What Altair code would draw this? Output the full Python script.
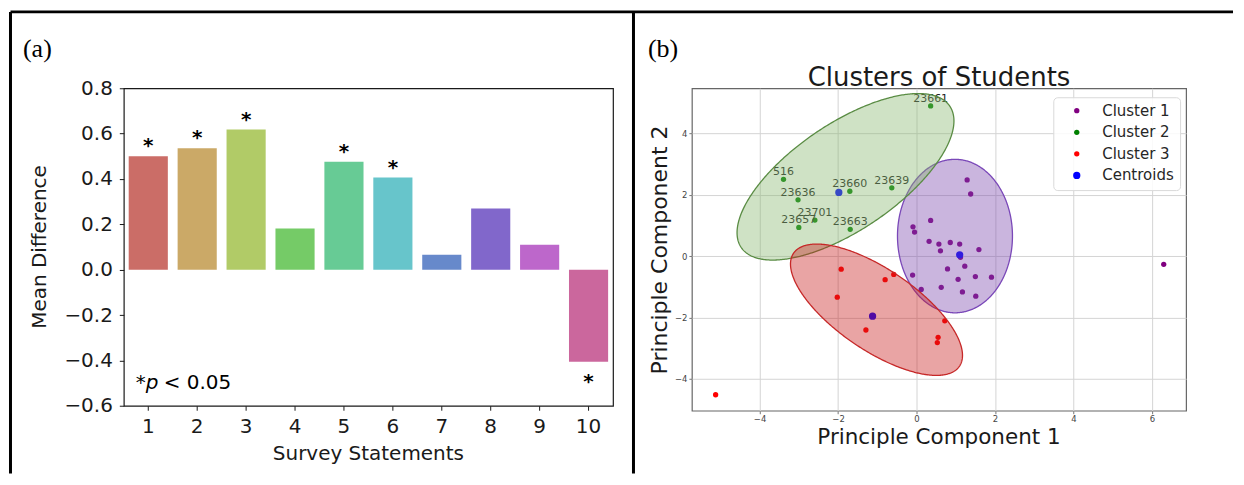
import colorsys
import numpy as np
import pandas as pd
import altair as alt

# ---------------- panel (a) data ----------------
statements = [str(i) for i in range(1, 11)]
mean_diff = [0.50, 0.535, 0.618, 0.182, 0.476, 0.406, 0.066, 0.27, 0.11, -0.406]
significant = [True, True, True, False, True, True, False, False, False, True]

# ---------------- panel (b) data ----------------
c1_x = [1.29, 1.38, 0.36, -0.09, -0.05, 0.32, 0.57, 0.86, 1.10, 0.61, 1.59, 1.12,
        1.23, 0.79, -0.10, 1.50, 1.91, 1.06, 0.12, 0.63, 1.17, 1.51, 6.30]
c1_y = [2.48, 2.02, 1.16, 0.95, 0.78, 0.48, 0.39, 0.44, 0.39, 0.17, 0.21, -0.04,
        -0.33, -0.42, -0.62, -0.67, -0.69, -0.76, -1.09, -1.02, -1.17, -1.31, -0.27]
c2_ids = ["23661", "516", "23636", "23660", "23639", "23701", "23657", "23663"]
c2_x = [0.36, -3.39, -3.02, -1.70, -0.63, -2.59, -3.00, -1.69]
c2_y = [4.89, 2.50, 1.83, 2.11, 2.22, 1.17, 0.93, 0.87]
c3_x = [-1.92, -2.02, -0.80, -0.58, -1.29, 0.72, 0.55, 0.53, -5.12]
c3_y = [-0.43, -1.34, -0.77, -0.60, -2.41, -2.11, -2.65, -2.82, -4.52]
cent_x = [1.10, -1.98, -1.12]
cent_y = [0.04, 2.07, -1.96]

# confidence ellipses (cluster 1, 2, 3): centre, full width/height, angle (deg)
ell_cx = [0.98, -1.81, -1.02]
ell_cy = [0.65, 2.58, -1.75]
ell_w = [2.93, 7.08, 5.64]
ell_h = [5.00, 3.14, 2.39]
ell_ang = [0.0, 44.2, -44.0]
ell_fill = ["#7b46ad", "#87b66e", "#c81c1c"]
ell_stroke = ["#7a48b8", "#5a8c44", "#c62828"]

cluster_names = ["Cluster 1", "Cluster 2", "Cluster 3", "Centroids"]
cluster_colors = ["#800080", "#008000", "#ff0000", "#0000ff"]
cluster_sizes = [28, 28, 28, 53]

# seaborn-like hls palette, desaturated
bar_colors = []
for i in range(10):
    h = (i / 10 + 0.01) % 1
    r, g, b = colorsys.hls_to_rgb(h, 0.6, 0.65 * 0.75)
    bar_colors.append("#%02x%02x%02x" % (round(r * 255), round(g * 255), round(b * 255)))

one = pd.DataFrame({"t": [""]})


def label(text, x, y, **kw):
    return alt.Chart(pd.DataFrame({"t": [text]})).mark_text(**kw).encode(
        x=alt.value(x), y=alt.value(y), text="t:N")


def hline(x1, x2, y, w=3):
    return alt.Chart(one).mark_rule(color="black", strokeWidth=w).encode(
        x=alt.value(x1), x2=alt.value(x2), y=alt.value(y))


def vline(x, y1, y2, w=3):
    return alt.Chart(one).mark_rule(color="black", strokeWidth=w).encode(
        x=alt.value(x), y=alt.value(y1), y2=alt.value(y2))


# ---------------- panel (a) ----------------
WA, HA = 490, 318
bar_df = pd.DataFrame({"statement": statements, "value": mean_diff,
                       "sig": significant, "color": bar_colors})

xA = alt.X("statement:N", sort=statements,
           scale=alt.Scale(paddingInner=0.2, paddingOuter=0.1),
           axis=alt.Axis(title=None, labelAngle=0, labelFontSize=20, labelColor="#1a1a1a",
                         tickSize=4.5, tickColor="#1a1a1a", tickWidth=1, labelPadding=6,
                         domain=False, grid=False))
yA = alt.Y("value:Q", scale=alt.Scale(domain=[-0.6, 0.8], nice=False, zero=False),
           axis=alt.Axis(title=None, values=[-0.6, -0.4, -0.2, 0, 0.2, 0.4, 0.6, 0.8],
                         format=".1f", labelFontSize=20, labelColor="#1a1a1a",
                         tickSize=4.5, tickColor="#1a1a1a", tickWidth=1, labelPadding=7,
                         domain=False, grid=False))

bars = alt.Chart(bar_df).mark_bar().encode(
    x=xA, y=yA, color=alt.Color("color:N", scale=None))
stars_pos = alt.Chart(bar_df).transform_filter("datum.sig && datum.value > 0").mark_text(
    text="*", fontSize=20, fontWeight="bold", baseline="alphabetic", dy=-4,
    color="black").encode(x=xA, y=yA)
stars_neg = alt.Chart(bar_df).transform_filter("datum.sig && datum.value < 0").mark_text(
    text="*", fontSize=20, fontWeight="bold", baseline="alphabetic", dy=26.7,
    color="black").encode(x=xA, y=yA)

panel_a = alt.layer(
    bars, stars_pos, stars_neg,
    label("*", 12, 301, fontSize=20, align="left", baseline="alphabetic", color="black"),
    label("p", 22, 301, fontSize=20, fontStyle="italic", align="left",
          baseline="alphabetic", color="black"),
    label("< 0.05", 40, 301, fontSize=20, align="left", baseline="alphabetic", color="black"),
    label("Mean Difference", -78, 159, fontSize=20, angle=270, align="center",
          baseline="alphabetic", color="#1a1a1a"),
    label("Survey Statements", 245, 372, fontSize=20, align="center",
          baseline="alphabetic", color="#1a1a1a"),
    label("(a)", -101, -31, font="Liberation Serif", fontSize=26, align="left",
          baseline="alphabetic", color="black"),
    # table frame
    hline(-113.5, 1111, -76.5),
    vline(-113.5, -76.5, 386),
    vline(510.5, -76.5, 386),
).properties(width=WA, height=HA,
             view=alt.ViewBackground(stroke="#1a1a1a", strokeWidth=1.2))

# ---------------- panel (b) ----------------
WB, HB = 495, 323
pts = pd.DataFrame({
    "x": c1_x + c2_x + c3_x,
    "y": c1_y + c2_y + c3_y,
    "cluster": ["Cluster 1"] * len(c1_x) + ["Cluster 2"] * len(c2_x) + ["Cluster 3"] * len(c3_x),
})
cent = pd.DataFrame({"x": cent_x, "y": cent_y, "cluster": ["Centroids"] * len(cent_x)})
ids = pd.DataFrame({"x": c2_x, "y": c2_y, "id": c2_ids})

xB = alt.X("x:Q", scale=alt.Scale(domain=[-5.725, 6.87], nice=False, zero=False),
           axis=alt.Axis(title=None, values=[-4, -2, 0, 2, 4, 6], format="d",
                         labelFontSize=8.5, labelColor="#444", tickSize=3, tickColor="#777",
                         labelPadding=1, labelFlush=False, domain=False, grid=True,
                         gridColor="#d4d4d4", gridWidth=1))
yB = alt.Y("y:Q", scale=alt.Scale(domain=[-5.04, 5.465], nice=False, zero=False),
           axis=alt.Axis(title=None, values=[-4, -2, 0, 2, 4], format="d",
                         labelFontSize=8.5, labelColor="#444", tickSize=3, tickColor="#777",
                         labelPadding=2, labelFlush=False, domain=False, grid=True,
                         gridColor="#d4d4d4", gridWidth=1))

# legends of a concatenated chart are placed relative to the first panel
leg = alt.Legend(title=None, orient="none", legendX=931, legendY=9,
                 fillColor="rgba(255,255,255,0.85)", strokeColor="#d9d9d9", cornerRadius=4,
                 padding=6, labelFontSize=15, labelColor="#262626", symbolType="circle",
                 symbolStrokeWidth=0, symbolOpacity=1, symbolOffset=10,
                 labelOffset=18, rowPadding=5.6)
colB = alt.Color("cluster:N", scale=alt.Scale(domain=cluster_names, range=cluster_colors),
                 legend=leg)
sizeB = alt.Size("cluster:N", scale=alt.Scale(type="ordinal", domain=cluster_names,
                                              range=cluster_sizes), legend=leg)

points = alt.Chart(pts).mark_circle(opacity=1).encode(x=xB, y=yB, color=colB, size=sizeB)
cents = alt.Chart(cent).mark_circle(opacity=1).encode(x=xB, y=yB, color=colB, size=sizeB)
id_text = alt.Chart(ids).mark_text(fontSize=11, color="#222", align="center",
                                   baseline="alphabetic", dy=-4).encode(
    x=xB, y=yB, text="id:N")


def ellipse_frame(cx, cy, w, h, ang):
    a, b = w / 2.0, h / 2.0
    t = np.deg2rad(ang)
    c, s = np.cos(t), np.sin(t)
    half = np.sqrt((a * c) ** 2 + (b * s) ** 2)
    u = -half * np.cos(np.linspace(0, np.pi, 241))
    P = s * s / a ** 2 + c * c / b ** 2
    Q = 2 * u * (c * s / a ** 2 - s * c / b ** 2)
    R = u * u * (c * c / a ** 2 + s * s / b ** 2) - 1
    disc = np.clip(Q * Q - 4 * P * R, 0, None)
    lo = (-Q - np.sqrt(disc)) / (2 * P)
    hi = (-Q + np.sqrt(disc)) / (2 * P)
    return pd.DataFrame({"x": cx + u, "lo": cy + lo, "hi": cy + hi})


ellipses = []
for k in range(3):
    df = ellipse_frame(ell_cx[k], ell_cy[k], ell_w[k], ell_h[k], ell_ang[k])
    ellipses.append(
        alt.Chart(df).mark_area(fill=ell_fill[k], fillOpacity=0.4, stroke=ell_stroke[k],
                                strokeWidth=1.3, strokeOpacity=1).encode(
            x=xB, y=alt.Y("lo:Q", scale=alt.Scale(domain=[-5.04, 5.465], nice=False, zero=False)),
            y2="hi:Q"))

panel_b = alt.layer(
    points, cents, id_text, *ellipses,
    label("Clusters of Students", 247.5, -2.5, fontSize=26, align="center",
          baseline="alphabetic", color="#1a1a1a"),
    label("Principle Component 1", 247.5, 356, fontSize=21.5, align="center",
          baseline="alphabetic", color="#1a1a1a"),
    label("Principle Component 2", -25, 162, fontSize=22, angle=270, align="center",
          baseline="alphabetic", color="#1a1a1a"),
    label("(b)", -44, -31, font="Liberation Serif", fontSize=26, align="left",
          baseline="alphabetic", color="black"),
).properties(width=WB, height=HB,
             view=alt.ViewBackground(stroke="#666666", strokeWidth=1.2))

chart = alt.hconcat(panel_a, panel_b, spacing=79, bounds="flush").properties(
    padding={"left": 0, "top": 1, "right": 0, "bottom": 0},
    autosize=alt.AutoSizeParams(type="pad"),
).configure(font="DejaVu Sans")

chart.save("out.html", embed_options={"renderer": "svg", "actions": False})
